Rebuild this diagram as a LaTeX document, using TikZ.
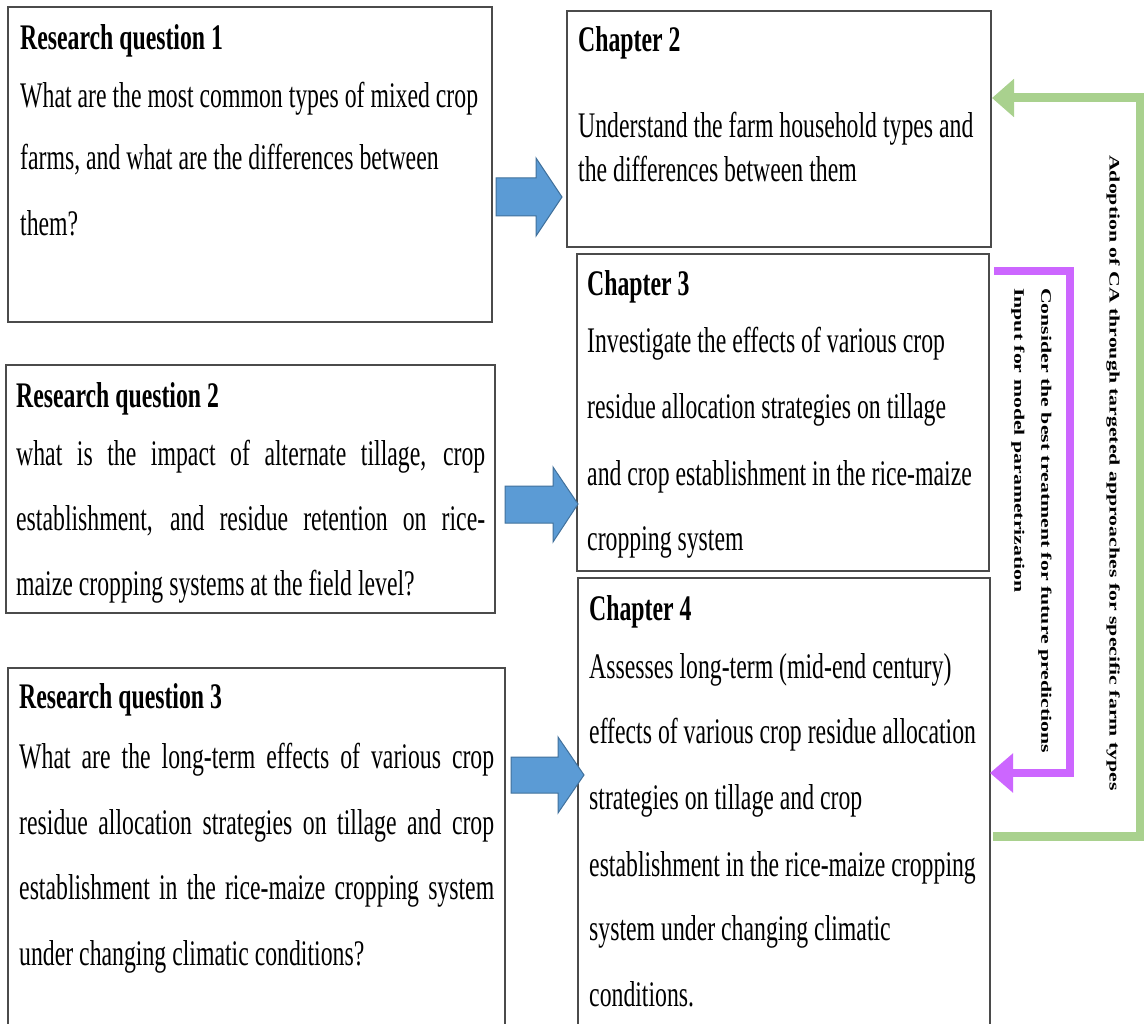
\documentclass[tikz,border=0pt]{standalone}
\usepackage{fontspec}
\usepackage{graphicx}
\setmainfont{Liberation Serif}[FakeStretch=0.66]
\newfontfamily\rotfont{Liberation Serif}
\usetikzlibrary{arrows.meta}
\definecolor{boxgray}{RGB}{75,75,75}
\definecolor{arrblue}{RGB}{91,155,213}
\definecolor{arrblueedge}{RGB}{65,113,156}
\definecolor{cagreen}{RGB}{169,209,142}
\definecolor{capurple}{RGB}{204,102,255}
\newcommand\bodyfont{\fontsize{36}{44}\selectfont}
\newcommand\titlefont{\fontsize{36}{44}\selectfont\bfseries}
\newcommand\sidefont{\rotfont\bfseries\fontsize{21.8}{26}\selectfont}
\newcommand\jline[2]{\makebox[#1pt][s]{#2}}
\begin{document}
\begin{tikzpicture}[x=1pt,y=-1pt,
  box/.style={draw=boxgray, line width=1.2pt, anchor=north west, inner sep=0pt, outer sep=0pt},
  txt/.style={anchor=base west, inner sep=0pt, font=\bodyfont},
  ttl/.style={anchor=base west, inner sep=0pt, font=\titlefont},
  blk/.style={fill=arrblue, draw=arrblueedge, line width=1pt, line join=miter},
  sidetxt/.style={rotate=-90, inner sep=0pt, font=\sidefont},
  greenline/.style={draw=cagreen, line width=9pt, line join=miter, -{Triangle[length=22pt,width=37pt]}},
  purpleline/.style={draw=capurple, line width=8pt, line join=miter, -{Triangle[length=23pt,width=38pt]}}]
\useasboundingbox[fill=white] (0,0) rectangle (1144,1024);

% boxes
\node[box, minimum width=484pt, minimum height=315pt] (rq1) at (8,7) {};
\node[box, minimum width=489pt, minimum height=248pt] (rq2) at (6,365) {};
\node[box, minimum width=497pt, minimum height=380pt] (rq3) at (8,668) {};
\node[box, minimum width=424pt, minimum height=236pt] (ch2) at (567,11) {};
\node[box, minimum width=412pt, minimum height=317pt] (ch3) at (577,254) {};
\node[box, minimum width=412pt, minimum height=470pt] (ch4) at (578,578) {};

% RQ1
\node[ttl] (rq1t) at (20,50) {Research question 1};
\node[txt] (rq1a) at (20,108) {What are the most common types of mixed crop};
\node[txt] (rq1b) at (20,170) {farms, and what are the differences between};
\node[txt] (rq1c) at (20,236) {them?};

% RQ2
\node[ttl] (rq2t) at (16,407) {Research question 2};
\node[txt] (rq2a) at (16,465) {\jline{469}{what is the impact of alternate tillage, crop}};
\node[txt] (rq2b) at (16,530) {\jline{469}{establishment, and residue retention on rice-}};
\node[txt] (rq2c) at (16,595) {maize cropping systems at the field level?};

% RQ3
\node[ttl] (rq3t) at (19,708) {Research question 3};
\node[txt] (rq3a) at (19,768) {\jline{475}{What are the long-term effects of various crop}};
\node[txt] (rq3b) at (19,834) {\jline{475}{residue allocation strategies on tillage and crop}};
\node[txt] (rq3c) at (19,899) {\jline{475}{establishment in the rice-maize cropping system}};
\node[txt] (rq3d) at (19,965) {under changing climatic conditions?};

% Chapter 2
\node[ttl] (ch2t) at (578,52) {Chapter 2};
\node[txt] (ch2a) at (578,138) {Understand the farm household types and};
\node[txt] (ch2b) at (578,182) {the differences between them};

% Chapter 3
\node[ttl] (ch3t) at (587,296) {Chapter 3};
\node[txt] (ch3a) at (587,353) {Investigate the effects of various crop};
\node[txt] (ch3b) at (587,418) {residue allocation strategies on tillage};
\node[txt] (ch3c) at (587,485) {and crop establishment in the rice-maize};
\node[txt] (ch3d) at (587,550) {cropping system};

% Chapter 4
\node[ttl] (ch4t) at (589,620) {Chapter 4};
\node[txt] (ch4a) at (589,678) {Assesses long-term (mid-end century)};
\node[txt] (ch4b) at (589,743) {effects of various crop residue allocation};
\node[txt] (ch4c) at (589,809) {strategies on tillage and crop};
\node[txt] (ch4d) at (589,876) {establishment in the rice-maize cropping};
\node[txt] (ch4e) at (589,940) {system under changing climatic};
\node[txt] (ch4f) at (589,1006) {conditions.};

% block arrows
\draw[blk] (496,178) -- (536,178) -- (536,158) -- (562,197) -- (536,236) -- (536,216) -- (496,216) -- cycle;
\draw[blk] (505,486) -- (553,486) -- (553,467) -- (578,504) -- (553,542) -- (553,523) -- (505,523) -- cycle;
\draw[blk] (511,757) -- (558,757) -- (558,737) -- (584,775) -- (558,813) -- (558,793) -- (511,793) -- cycle;

% feedback connectors
\draw[greenline] ([xshift=3pt]ch4.east |- 0,836) -| (1140,98) -- ([xshift=1pt]ch2.east |- 0,98);
\draw[purpleline] ([xshift=5pt]ch3.east |- 0,271) -| (1070,773) -- (ch4.east |- 0,773);

% side labels
\node[sidetxt, anchor=center] (adopt) at (1113,473) {\scalebox{1}[0.665]{Adoption of CA through targeted approaches for specific farm types}};
\node[sidetxt, anchor=west] (best) at (1045,288) {\scalebox{1}[0.665]{Consider the best treatment for future predictions}};
\node[sidetxt, anchor=west] (inp) at (1018,288) {\scalebox{1}[0.665]{Input for model parametrization}};
\end{tikzpicture}
\end{document}
